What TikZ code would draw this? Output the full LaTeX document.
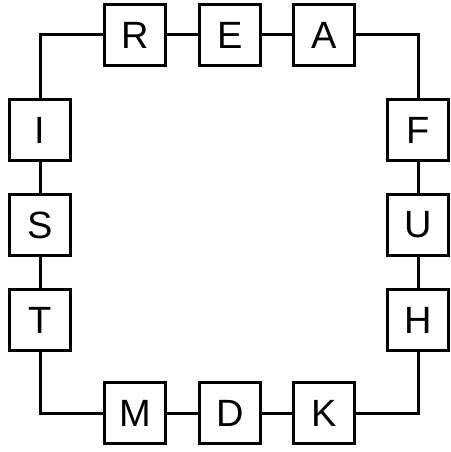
\documentclass[tikz,border=0pt]{standalone}
\usepackage{fontspec}
\setmainfont{Liberation Sans}
\begin{document}
\begin{tikzpicture}[x=1pt,y=-1pt,
  box/.style={draw=black,line width=3pt,fill=white,minimum size=61pt,inner sep=0pt,font=\fontsize{38}{38}\selectfont},
  link/.style={draw=black,line width=3pt}]
\useasboundingbox (0,0) rectangle (450,452);
\node[box] (R) at (135,35) {R};
\node[box] (E) at (230,35) {E};
\node[box] (A) at (324,35) {A};
\node[box] (F) at (418,130) {F};
\node[box] (U) at (418,225) {U};
\node[box] (H) at (418,320) {H};
\node[box] (K) at (324,413) {K};
\node[box] (D) at (230,413) {D};
\node[box] (M) at (135,413) {M};
\node[box] (T) at (40,320) {T};
\node[box] (S) at (40,225) {S};
\node[box] (I) at (40,130) {I};
\draw[link] (R) -- (E);
\draw[link] (E) -- (A);
\draw[link] (A) -| (F);
\draw[link] (F) -- (U);
\draw[link] (U) -- (H);
\draw[link] (H) |- (K);
\draw[link] (K) -- (D);
\draw[link] (D) -- (M);
\draw[link] (M) -| (T);
\draw[link] (T) -- (S);
\draw[link] (S) -- (I);
\draw[link] (I) |- (R);
\end{tikzpicture}
\end{document}
